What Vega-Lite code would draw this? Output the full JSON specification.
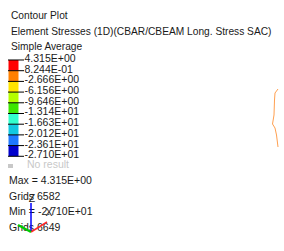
{
  "$schema": "https://vega.github.io/schema/vega-lite/v6.json",
  "width": 284,
  "height": 251,
  "padding": 0,
  "autosize": {"type": "fit", "contains": "padding"},
  "background": "white",
  "config": {"view": {"stroke": null}, "text": {"font": "Liberation Sans", "fontSize": 10.5, "color": "#1a1a1a"}},
  "resolve": {"scale": {"x": "independent", "y": "independent", "color": "independent"}},
  "layer": [
    {
      "data": {"values": [
        {"order": 1, "line": "Contour Plot"},
        {"order": 2, "line": "Element Stresses (1D)(CBAR/CBEAM Long. Stress SAC)"},
        {"order": 3, "line": "Simple Average"}
      ]},
      "mark": {"type": "text", "align": "left", "baseline": "middle", "fontSize": 10.2},
      "encoding": {
        "x": {"value": 11},
        "y": {"field": "order", "type": "ordinal", "scale": {"type": "point", "range": [16, 47], "padding": 0}, "axis": null},
        "text": {"field": "line"}
      }
    },
    {
      "data": {"values": [
        {"band": 1, "hi": 4.315, "lo": 0.8244},
        {"band": 2, "hi": 0.8244, "lo": -2.666},
        {"band": 3, "hi": -2.666, "lo": -6.156},
        {"band": 4, "hi": -6.156, "lo": -9.646},
        {"band": 5, "hi": -9.646, "lo": -13.14},
        {"band": 6, "hi": -13.14, "lo": -16.63},
        {"band": 7, "hi": -16.63, "lo": -20.12},
        {"band": 8, "hi": -20.12, "lo": -23.61},
        {"band": 9, "hi": -23.61, "lo": -27.10}
      ]},
      "mark": {"type": "rect"},
      "encoding": {
        "x": {"value": 8.5},
        "x2": {"value": 18.5},
        "y": {"field": "hi", "type": "quantitative", "scale": {"domain": [-58.004, 23.891], "zero": false, "nice": false}, "axis": null},
        "y2": {"field": "lo"},
        "color": {"field": "band", "type": "ordinal", "legend": null,
          "scale": {"domain": [1, 2, 3, 4, 5, 6, 7, 8, 9],
                    "range": ["#ff0000", "#ff8000", "#ffe400", "#b4ff00", "#3ce600", "#33ffcc", "#12c8e0", "#1e78ff", "#0000cc"]}}
      }
    },
    {
      "data": {"values": [
        {"value": 4.315, "label": "4.315E+00"},
        {"value": 0.8244, "label": "8.244E-01"},
        {"value": -2.666, "label": "-2.666E+00"},
        {"value": -6.156, "label": "-6.156E+00"},
        {"value": -9.646, "label": "-9.646E+00"},
        {"value": -13.14, "label": "-1.314E+01"},
        {"value": -16.63, "label": "-1.663E+01"},
        {"value": -20.12, "label": "-2.012E+01"},
        {"value": -23.61, "label": "-2.361E+01"},
        {"value": -27.10, "label": "-2.710E+01"}
      ]},
      "layer": [
        {
          "mark": {"type": "rule", "color": "#000000", "strokeWidth": 1},
          "encoding": {
            "x": {"value": 8},
            "x2": {"value": 24},
            "y": {"field": "value", "type": "quantitative", "scale": {"domain": [-58.004, 23.891], "zero": false, "nice": false}, "axis": null}
          }
        },
        {
          "mark": {"type": "text", "align": "left", "baseline": "middle", "dy": -1},
          "encoding": {
            "x": {"value": 24.5},
            "y": {"field": "value", "type": "quantitative", "scale": {"domain": [-58.004, 23.891], "zero": false, "nice": false}, "axis": null},
            "text": {"field": "label"}
          }
        }
      ]
    },
    {
      "data": {"values": [{"label": "No result"}]},
      "layer": [
        {
          "mark": {"type": "rect", "color": "#c8c8c8"},
          "encoding": {"x": {"value": 8}, "x2": {"value": 13}, "y": {"value": 164}, "y2": {"value": 168}}
        },
        {
          "mark": {"type": "text", "align": "left", "baseline": "middle", "color": "#c8c8c8"},
          "encoding": {"x": {"value": 27}, "y": {"value": 165}, "text": {"field": "label"}}
        }
      ]
    },
    {
      "data": {"values": [
        {"order": 1, "line": "Max = 4.315E+00"},
        {"order": 2, "line": "Grids 6582"},
        {"order": 3, "line": "Min = -2.710E+01"},
        {"order": 4, "line": "Grids 6649"}
      ]},
      "mark": {"type": "text", "align": "left", "baseline": "middle"},
      "encoding": {
        "x": {"value": 9},
        "y": {"field": "order", "type": "ordinal", "scale": {"type": "point", "range": [181, 228], "padding": 0}, "axis": null},
        "text": {"field": "line"}
      }
    },
    {
      "data": {"values": [{"axis": "Z"}]},
      "layer": [
        {"mark": {"type": "rule", "color": "#0000ff", "strokeWidth": 1.5},
         "encoding": {"x": {"value": 31}, "x2": {"value": 31}, "y": {"value": 203}, "y2": {"value": 232}}},
        {"mark": {"type": "rule", "color": "#ff2a2a", "strokeWidth": 1.5},
         "encoding": {"x": {"value": 31}, "x2": {"value": 47}, "y": {"value": 232}, "y2": {"value": 222}}},
        {"mark": {"type": "rule", "color": "#00cc00", "strokeWidth": 2},
         "encoding": {"x": {"value": 31}, "x2": {"value": 18}, "y": {"value": 232}, "y2": {"value": 225}}},
        {"mark": {"type": "text", "align": "center", "baseline": "middle"},
         "encoding": {"x": {"value": 32}, "y": {"value": 199}, "text": {"value": "Z"}}},
        {"mark": {"type": "text", "align": "center", "baseline": "middle"},
         "encoding": {"x": {"value": 49}, "y": {"value": 213}, "text": {"value": "X"}}}
      ]
    },
    {
      "data": {"values": [
        {"i": 1, "x": 278, "y": 89},
        {"i": 2, "x": 275, "y": 93},
        {"i": 3, "x": 274.5, "y": 100},
        {"i": 4, "x": 274, "y": 115},
        {"i": 5, "x": 272.5, "y": 124},
        {"i": 6, "x": 275, "y": 128},
        {"i": 7, "x": 276.5, "y": 135},
        {"i": 8, "x": 278, "y": 147}
      ]},
      "mark": {"type": "line", "color": "#ffa050", "strokeWidth": 1},
      "encoding": {
        "x": {"field": "x", "type": "quantitative", "scale": {"domain": [0, 284], "nice": false, "zero": false}, "axis": null},
        "y": {"field": "y", "type": "quantitative", "scale": {"domain": [0, 251], "nice": false, "zero": false, "reverse": true}, "axis": null},
        "order": {"field": "i"}
      }
    }
  ]
}
